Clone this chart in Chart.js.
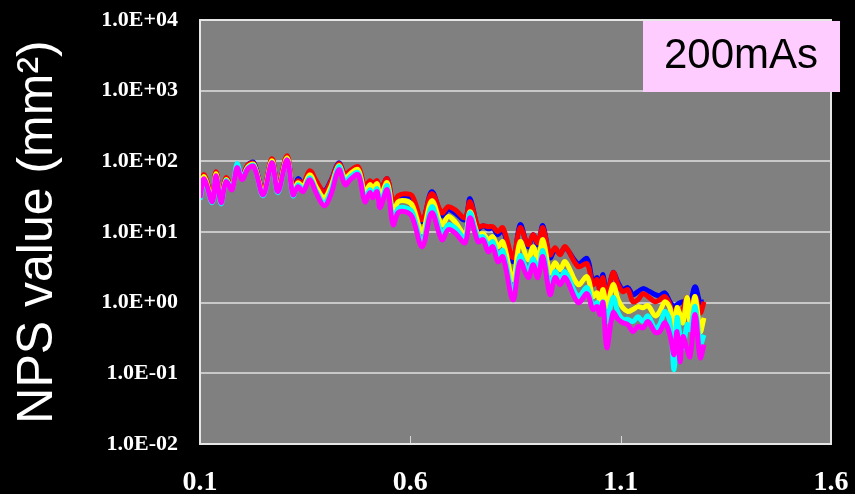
<!DOCTYPE html>
<html>
<head>
<meta charset="utf-8">
<script src="https://cdn.jsdelivr.net/npm/chart.js@4"></script>
<style>
  html, body { margin: 0; padding: 0; background: #000; }
  canvas { display: block; }
</style>
</head>
<body>
<canvas id="nps" width="855" height="494"></canvas>
<script>
// spatial frequency (cycles/mm)
const freq = [
  0.100, 0.110, 0.129, 0.138, 0.150, 0.162, 0.176, 0.188, 0.200, 0.214,
  0.228, 0.250, 0.271, 0.285, 0.307, 0.321, 0.333, 0.345, 0.361, 0.376,
  0.395, 0.411, 0.430, 0.445, 0.457, 0.476, 0.492, 0.504, 0.511, 0.521,
  0.528, 0.545, 0.559, 0.571, 0.587, 0.604, 0.628, 0.651, 0.675, 0.690,
  0.706, 0.730, 0.742, 0.761, 0.773, 0.785, 0.796, 0.808, 0.820, 0.844,
  0.861, 0.880, 0.892, 0.903, 0.915, 0.932, 0.944, 0.956, 0.968, 0.999,
  1.020, 1.034, 1.044, 1.051, 1.058, 1.067, 1.082, 1.094, 1.105, 1.117,
  1.129, 1.141, 1.153, 1.165, 1.182, 1.193, 1.205, 1.217, 1.227, 1.234,
  1.241, 1.248, 1.258, 1.265, 1.277, 1.289, 1.298,
];

const blueSeries = [
  36.0, 62.6, 29.6, 69.0, 28.6, 56.7, 42.3, 83.9, 60.6, 89.5,
  95.5, 37.2, 105, 41.0, 116, 38.4, 56.7, 48.2, 69.0, 49.8,
  38.4, 53.2, 95.5, 62.6, 69.0, 78.6, 42.3, 51.5, 48.2, 51.5,
  38.4, 56.7, 24.3, 30.6, 32.6, 30.6, 14.0, 37.2, 17.0, 20.7,
  18.7, 14.9, 29.6, 11.1, 12.3, 11.1, 11.5, 9.16, 10.8, 3.80,
  12.7, 6.20, 9.16, 6.61, 12.3, 4.33, 5.62, 4.93, 6.00, 3.56,
  4.19, 1.98, 2.26, 1.53, 2.49, 1.26, 2.66, 1.92, 1.53, 1.63,
  1.30, 1.43, 1.58, 1.48, 1.30, 1.26, 1.38, 1.03, 0.88, 0.94,
  1.00, 1.03, 1.03, 1.00, 1.68, 1.00, 1.03,
];

const redSeries = [
  37.2, 64.6, 30.6, 71.3, 29.6, 58.6, 43.7, 83.9, 60.6, 89.5,
  92.5, 38.4, 109, 42.3, 120, 39.6, 53.2, 48.2, 73.7, 53.2,
  37.2, 51.5, 92.5, 64.6, 73.7, 83.9, 43.7, 53.2, 48.2, 53.2,
  39.6, 56.7, 26.0, 32.6, 34.8, 32.6, 14.9, 34.8, 18.7, 22.8,
  20.7, 15.9, 26.8, 11.9, 12.3, 11.9, 11.9, 10.1, 11.5, 4.33,
  11.5, 6.61, 9.16, 7.06, 11.5, 4.77, 6.00, 4.77, 6.20, 3.23,
  3.56, 1.80, 2.12, 1.43, 2.26, 1.18, 2.66, 1.80, 1.43, 1.53,
  1.03, 1.10, 1.34, 1.22, 1.03, 1.10, 1.22, 0.94, 0.54, 0.85,
  0.75, 0.80, 1.18, 0.75, 1.22, 0.72, 1.03,
];

const yellowSeries = [
  34.8, 60.6, 28.6, 66.8, 27.7, 54.9, 41.0, 83.9, 58.6, 83.9,
  89.5, 36.0, 102, 39.6, 112, 37.2, 49.8, 43.7, 64.6, 43.7,
  30.6, 43.7, 86.7, 56.7, 66.8, 76.1, 36.0, 46.7, 41.0, 48.2,
  31.6, 49.8, 19.4, 26.8, 27.7, 24.3, 10.1, 27.7, 12.7, 16.5,
  14.0, 9.16, 19.4, 9.16, 9.46, 7.78, 8.58, 6.20, 7.29, 2.12,
  7.29, 4.06, 6.20, 4.06, 7.78, 2.66, 3.68, 2.93, 3.80, 1.80,
  2.33, 1.22, 1.38, 1.03, 1.53, 0.88, 1.80, 1.10, 0.85, 0.75,
  0.80, 0.88, 0.85, 0.91, 0.65, 0.75, 1.03, 0.85, 0.415, 0.85,
  0.68, 0.52, 1.18, 0.54, 1.22, 0.39, 0.61,
];

const cyanSeries = [
  28.6, 54.9, 26.0, 60.6, 25.1, 53.2, 41.0, 92.5, 58.6, 81.2,
  86.7, 32.6, 95.5, 36.0, 105, 32.6, 46.7, 39.6, 58.6, 38.4,
  26.0, 38.4, 83.9, 51.5, 60.6, 69.0, 29.6, 39.6, 33.7, 41.0,
  24.3, 45.2, 14.5, 21.4, 22.1, 19.4, 7.29, 22.8, 9.46, 12.7,
  11.5, 8.30, 18.7, 8.30, 8.58, 6.40, 7.29, 4.62, 5.44, 1.38,
  4.62, 2.74, 4.19, 2.74, 5.44, 1.63, 2.74, 2.19, 2.74, 1.22,
  1.63, 0.88, 1.00, 0.75, 1.03, 0.54, 1.18, 0.72, 0.58, 0.58,
  0.54, 0.63, 0.54, 0.65, 0.43, 0.49, 0.75, 0.54, 0.113, 0.61,
  0.35, 0.23, 0.49, 0.415, 0.88, 0.255, 0.35,
];

const magentaSeries = [
  30.6, 56.7, 26.8, 62.6, 26.0, 51.5, 39.6, 81.2, 54.9, 78.6,
  83.9, 33.7, 95.5, 37.2, 105, 33.7, 43.7, 37.2, 54.9, 36.0,
  23.5, 33.7, 76.1, 46.7, 54.9, 64.6, 26.8, 36.0, 30.6, 37.2,
  22.1, 39.6, 12.7, 18.7, 19.4, 16.5, 6.20, 18.7, 7.78, 10.8,
  9.78, 7.06, 15.9, 7.29, 7.78, 5.26, 6.20, 3.80, 4.47, 1.10,
  3.80, 2.26, 3.45, 2.26, 4.47, 1.30, 2.26, 1.80, 2.26, 1.00,
  1.34, 0.80, 0.88, 0.68, 1.00, 0.23, 0.72, 0.58, 0.52, 0.49,
  0.39, 0.46, 0.44, 0.54, 0.38, 0.39, 0.52, 0.35, 0.184, 0.39,
  0.146, 0.33, 0.216, 0.172, 0.68, 0.167, 0.255,
];

const xTicks = [0.1, 0.6, 1.1, 1.6];
const yTicks = [1e-2, 1e-1, 1e0, 1e1, 1e2, 1e3, 1e4];

function pts(values) {
  return values.map((v, i) => ({ x: freq[i], y: v }));
}

function sci(v) {
  const e = Math.round(Math.log10(v));
  const sign = e < 0 ? "-" : "+";
  return "1.0E" + sign + String(Math.abs(e)).padStart(2, "0");
}

const plotFrame = {
  id: "plotFrame",
  beforeDraw(chart) {
    const { ctx, chartArea: a } = chart;
    ctx.save();
    ctx.fillStyle = "#000";
    ctx.fillRect(0, 0, chart.width, chart.height);
    ctx.fillStyle = "#808080";
    ctx.fillRect(a.left, a.top, a.right - a.left, a.bottom - a.top);
    ctx.restore();
  },
  afterDraw(chart) {
    const { ctx, chartArea: a } = chart;
    const xs = chart.scales.x;
    ctx.save();
    // small inner tick marks on the x axis
    ctx.strokeStyle = "#d8d8d8";
    ctx.lineWidth = 1;
    xTicks.slice(1, -1).forEach((t) => {
      const px = Math.round(xs.getPixelForValue(t)) + 0.5;
      ctx.beginPath();
      ctx.moveTo(px, a.bottom);
      ctx.lineTo(px, a.bottom - 8);
      ctx.stroke();
    });
    ctx.strokeStyle = "#e6e6e6";
    ctx.lineWidth = 2;
    ctx.strokeRect(a.left, a.top, a.right - a.left, a.bottom - a.top);
    // dose label box
    ctx.fillStyle = "#ffccff";
    ctx.fillRect(a.right - 188, a.top + 1, 197, 71);
    ctx.fillStyle = "#000";
    ctx.font = "42px 'Liberation Sans', Arial, sans-serif";
    ctx.textAlign = "center";
    ctx.textBaseline = "middle";
    ctx.fillText("200mAs", a.right - 90, a.top + 36);
    ctx.restore();
  },
};

const series = [
  { label: "blue", data: blueSeries, color: "#0000ff", order: 5 },
  { label: "red", data: redSeries, color: "#ff0000", order: 4 },
  { label: "yellow", data: yellowSeries, color: "#ffff00", order: 3 },
  { label: "cyan", data: cyanSeries, color: "#00ffff", order: 2 },
  { label: "magenta", data: magentaSeries, color: "#ff00ff", order: 1 },
];

const ctx = document.getElementById("nps");
new Chart(ctx, {
  type: "line",
  data: {
    datasets: series.map((s) => ({
      label: s.label,
      data: pts(s.data),
      borderColor: s.color,
      backgroundColor: s.color,
      borderWidth: 5,
      pointRadius: 0,
      tension: 0.35,
      order: s.order,
    })),
  },
  options: {
    responsive: false,
    animation: false,
    devicePixelRatio: 1,
    layout: { padding: { top: 20, right: 24, left: 0, bottom: 0 } },
    plugins: {
      legend: { display: false },
      tooltip: { enabled: false },
    },
    scales: {
      x: {
        type: "linear",
        min: 0.1,
        max: 1.6,
        afterBuildTicks: (scale) => {
          scale.ticks = xTicks.map((v) => ({ value: v }));
        },
        afterFit: (scale) => {
          scale.height = 50;
        },
        grid: {
          display: true,
          drawOnChartArea: false,
          drawTicks: true,
          tickLength: 22,
          tickColor: "rgba(0,0,0,0)",
        },
        border: { display: false },
        ticks: {
          color: "#fff",
          padding: 0,
          maxRotation: 0,
          font: { family: "'Liberation Serif', 'Times New Roman', serif", size: 28, weight: "bold" },
          callback: (v) => Number(v).toFixed(1),
        },
      },
      y: {
        type: "logarithmic",
        min: 1e-2,
        max: 1e4,
        afterBuildTicks: (scale) => {
          scale.ticks = yTicks.map((v) => ({ value: v }));
        },
        afterFit: (scale) => {
          scale.width = 200;
        },
        grid: {
          color: "#c8c8c8",
          lineWidth: 2,
          drawTicks: true,
          tickLength: 21,
          tickColor: "rgba(0,0,0,0)",
        },
        border: { display: false },
        ticks: {
          color: "#fff",
          padding: 1,
          font: { family: "'Liberation Serif', 'Times New Roman', serif", size: 22, weight: "bold" },
          callback: (v) => sci(v),
        },
        title: {
          display: true,
          text: "NPS value (mm²)",
          color: "#fff",
          padding: { top: 8, bottom: 0 },
          font: { family: "'Liberation Sans', Arial, sans-serif", size: 50 },
        },
      },
    },
  },
  plugins: [plotFrame],
});
</script>
</body>
</html>
